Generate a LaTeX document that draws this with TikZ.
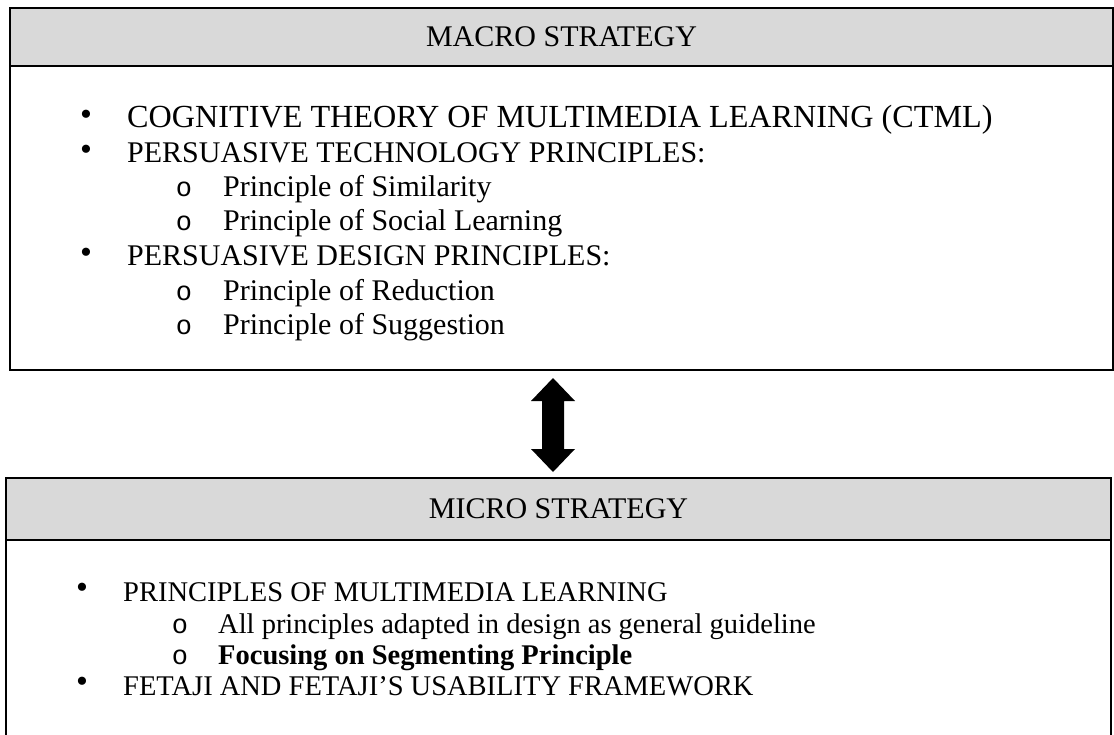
\documentclass[tikz,border=0pt]{standalone}
\usepackage{fontspec}
\setmainfont{Liberation Serif}
\newfontfamily\submarkfont{Liberation Mono}
\usetikzlibrary{calc}
\definecolor{headgray}{HTML}{D9D9D9}
\begin{document}
\begin{tikzpicture}[x=1pt,y=-1pt,
  txt/.style={font=\fontsize{30}{36}\selectfont},
  smalltxt/.style={font=\fontsize{28.5}{34}\selectfont},
  frame/.style={draw=black,line width=1.8pt,inner sep=0pt,outer sep=0pt},
  headband/.style={frame,fill=headgray,txt},
  item/.style={anchor=base west,inner sep=0pt,txt},
  dotmark/.style={anchor=center,inner sep=0pt,font=\fontsize{34}{40}\selectfont},
  ringmark/.style={anchor=base,inner sep=0pt,font=\fontsize{27}{32}\submarkfont}
]
\useasboundingbox (0,0) rectangle (1114,735);

% upper panel
\node[headband,anchor=north west,minimum width=1103pt,minimum height=58pt] (macrohead) at (10,8) {MACRO STRATEGY};
\node[frame,anchor=north west,minimum width=1103pt,minimum height=362pt] (macro) at (10,8) {};

\node[dotmark] (m1b) at (86,118) {•};
\node[item,font=\fontsize{32.2}{39}\selectfont] (m1) at (127,128) {COGNITIVE THEORY OF MULTIMEDIA LEARNING (CTML)};
\node[dotmark] (m2b) at (86,153) {•};
\node[item] (m2) at (127,163) {PERSUASIVE TECHNOLOGY PRINCIPLES:};
\node[ringmark] (m3b) at (184,197) {o};
\node[item] (m3) at (223,197) {Principle of Similarity};
\node[ringmark] (m4b) at (184,231) {o};
\node[item] (m4) at (223,231) {Principle of Social Learning};
\node[dotmark] (m5b) at (86,256) {•};
\node[item] (m5) at (127,266) {PERSUASIVE DESIGN PRINCIPLES:};
\node[ringmark] (m6b) at (184,301) {o};
\node[item] (m6) at (223,301) {Principle of Reduction};
\node[ringmark] (m7b) at (184,335) {o};
\node[item] (m7) at (223,335) {Principle of Suggestion};

% lower panel (runs past the bottom edge)
\node[headband,anchor=north west,minimum width=1105pt,minimum height=62pt,line width=2.3pt] (microhead) at (6,478) {MICRO STRATEGY};
\node[frame,anchor=north west,minimum width=1105pt,minimum height=280pt,line width=2.3pt] (micro) at (6,478) {};

\node[dotmark] (u1b) at (82,591) {•};
\node[item,smalltxt] (u1) at (123,601) {PRINCIPLES OF MULTIMEDIA LEARNING};
\node[ringmark] (u2b) at (180,633) {o};
\node[item,smalltxt] (u2) at (218,633) {All principles adapted in design as general guideline};
\node[ringmark] (u3b) at (180,664) {o};
\node[item,font=\fontsize{28.5}{34}\selectfont\bfseries] (u3) at (218,664) {Focusing on Segmenting Principle};
\node[dotmark] (u4b) at (82,685) {•};
\node[item,smalltxt] (u4) at (123,695) {FETAJI AND FETAJI’S USABILITY FRAMEWORK};

% double-headed block arrow between the panels
\coordinate (ax) at (553,0);
\coordinate (atop) at ($(macro.south -| ax)+(0,8)$);
\coordinate (abot) at ($(micro.north -| ax)+(0,-6)$);
\fill[black] (atop) -- ++(22,23) -- ++(-11,0) -- ($(abot)+(11,-23)$) -- ++(11,0)
  -- (abot) -- ++(-22,-23) -- ++(11,0) -- ($(atop)+(-11,23)$) -- ++(-11,0) -- cycle;
\end{tikzpicture}
\end{document}
